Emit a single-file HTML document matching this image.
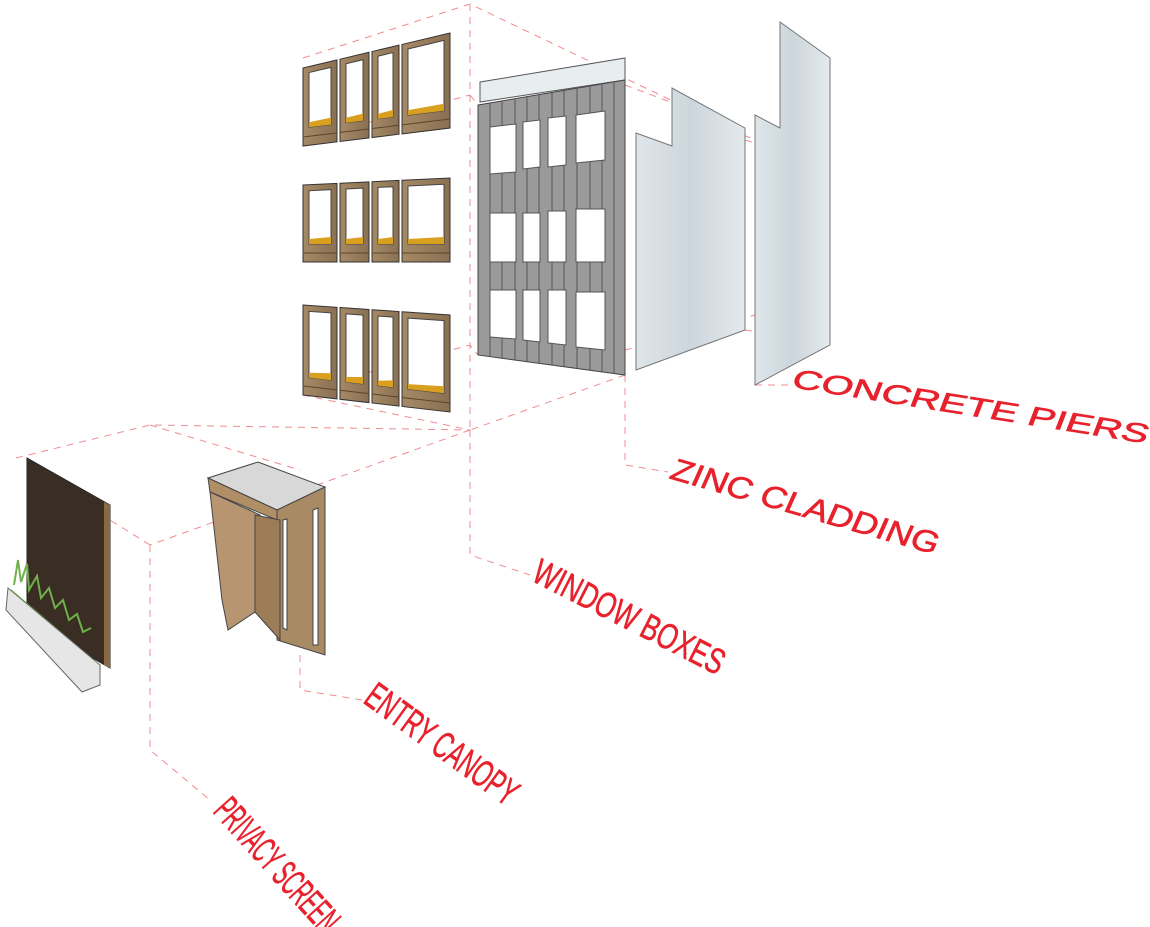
<!DOCTYPE html>
<html><head><meta charset="utf-8"><style>
html,body{margin:0;padding:0;background:#fff;width:1150px;height:927px;overflow:hidden}
svg{display:block}
.d{stroke:#f08c90;stroke-width:1;stroke-dasharray:7 6;fill:none}
.lbl{font-family:"Liberation Sans",sans-serif;fill:#e8222c;stroke:#e8222c;stroke-width:0.6}
</style></head><body>
<svg id="s" width="1150" height="927" viewBox="0 0 1150 927">
<defs>
<linearGradient id="conc" x1="0" x2="1"><stop offset="0" stop-color="#dfe6ea"/><stop offset=".5" stop-color="#cdd6dc"/><stop offset="1" stop-color="#e4eaed"/></linearGradient>
<linearGradient id="wood" x1="0" x2="1"><stop offset="0" stop-color="#a68a66"/><stop offset="1" stop-color="#8a7052"/></linearGradient>
</defs>
<path class="d" d="M303,58 L470,4 L750,138 M470,4 L470,430 M303,140 L470,95 M470,95 L478,105 M303,390 L470,345 L478,355 M303,395 L470,430 M625,375 L625,465 L668,472 M625,375 L470,430 M470,430 L150,545 M16,458 L150,425 L470,430 M150,425 L300,470 M150,545 L150,750 L210,800 M150,545 L110,520 M470,430 L470,555 L530,575 M300,655 L300,690 L362,700 M745,140 L780,150 M745,330 L780,335 M755,385 L790,385 M625,85 L745,130 M625,350 L755,315"/>
<g id="wb"></g>
<!-- zinc cladding -->
<polygon points="480,82 625,58 625,80 480,102" fill="#e8eef0" stroke="#555"/>
<polygon points="478,105 625,80 625,375 478,355" fill="#9a9a9a" stroke="#444"/>
<g stroke="#555" stroke-width="1"><path d="M490,103 V357 M502,101 V358 M515,99 V360 M527,97 V362 M539,95 V363 M552,93 V365 M564,91 V367 M577,89 V368 M590,87 V370 M602,85 V372 M614,83 V374"/></g>
<g fill="#fff" stroke="#555">
<polygon points="490,127 516,124 516,172 490,174"/><polygon points="523,122 540,120 540,167 523,169"/><polygon points="548,118 566,116 566,165 548,167"/><polygon points="576,115 605,111 605,160 576,163"/>
<polygon points="490,213 516,213 516,262 490,262"/><polygon points="523,213 540,213 540,262 523,262"/><polygon points="548,211 566,211 566,262 548,262"/><polygon points="576,209 605,209 605,262 576,262"/>
<polygon points="490,290 516,290 516,339 490,337"/><polygon points="523,290 540,290 540,342 523,340"/><polygon points="548,290 566,290 566,345 548,343"/><polygon points="576,292 605,292 605,350 576,347"/>
</g>
<polygon points="636,133 672,146 672,88 745,128 745,330 636,370" fill="url(#conc)" stroke="#777"/>
<polygon points="755,115 780,128 780,22 830,58 830,345 755,385" fill="url(#conc)" stroke="#777"/>
<!-- privacy screen -->
<polygon points="27,458 110,505 110,668 27,620" fill="#3a2e24" stroke="#222"/>
<polygon points="104,502 110,505 110,668 104,665" fill="#8a6a45"/>
<polygon points="8,588 100,665 100,685 82,692 6,610" fill="#e6e6e6" stroke="#666"/>
<polygon points="12,590 96,662 100,665 8,588" fill="#6aa040"/>
<path d="M14,585 l4,-25 l3,22 l6,-18 l2,26 l8,-14 l4,22 l8,-10 l6,20 l8,-8 l6,20 l8,-6 l6,18 l8,-4" stroke="#6fb04a" stroke-width="2" fill="none"/>
<!-- entry canopy -->
<polygon points="208,478 258,462 325,487 277,510" fill="#d8d8d8" stroke="#444"/>
<polygon points="208,478 277,510 277,520 210,492" fill="#b08e66" stroke="#444"/>
<polygon points="210,492 260,515 255,612 228,630 222,600" fill="#b69570" stroke="#444"/>
<polygon points="277,510 325,487 325,655 277,640" fill="#a88a64" stroke="#444"/>
<polygon points="255,515 280,520 280,640 255,612" fill="#9c7d58" stroke="#444"/>
<polygon points="313,510 318,508 318,645 313,645" fill="#fff" stroke="#444"/>
<polygon points="283,520 287,519 287,630 283,628" fill="#fff" stroke="#444"/>
<!-- labels -->
<text class="lbl" font-size="27" transform="translate(790,387) rotate(9) skewX(-12) scale(1.5,1)">CONCRETE PIERS</text>
<text class="lbl" font-size="31" transform="translate(668,478) rotate(16) skewX(-8) scale(1.15,1)">ZINC CLADDING</text>
<text class="lbl" font-size="36" transform="translate(530,580) rotate(27) scale(0.72,1)">WINDOW BOXES</text>
<text class="lbl" font-size="38" transform="translate(362,702) rotate(36) scale(0.6,1)">ENTRY CANOPY</text>
<text class="lbl" font-size="38" transform="translate(212,812) rotate(48) scale(0.5,1)">PRIVACY SCREEN</text>
</svg>
<script>
var rows=[[68,33,146,128],[185,178,262,262],[305,315,395,412]];
var xs=[[303,337],[340,369],[372,399],[402,450]];
var g=document.getElementById('wb'),h='';
function iy(a,b,x){return a+(b-a)*(x-303)/147;}
rows.forEach(function(r){xs.forEach(function(b){
var x1=b[0],x2=b[1];
var t1=iy(r[0],r[1],x1),t2=iy(r[0],r[1],x2),b1=iy(r[2],r[3],x1),b2=iy(r[2],r[3],x2);
h+='<polygon points="'+x1+','+t1+' '+x2+','+t2+' '+x2+','+b2+' '+x1+','+b1+'" fill="url(#wood)" stroke="#333"/>';
var a=x1+6,c=x2-6,p=18;
var ta=iy(r[0],r[1],a)+6,tc=iy(r[0],r[1],c)+6,ba=iy(r[2],r[3],a)-p,bc=iy(r[2],r[3],c)-p;
h+='<polygon points="'+a+','+ta+' '+c+','+tc+' '+c+','+bc+' '+a+','+ba+'" fill="#fff" stroke="#444"/>';
h+='<polygon points="'+a+','+(ba-5)+' '+c+','+(bc-7)+' '+c+','+bc+' '+a+','+ba+'" fill="#d9a020"/>';
h+='<line x1="'+x1+'" y1="'+(b1-9)+'" x2="'+x2+'" y2="'+(b2-9)+'" stroke="#5a4530"/>';
});});
g.innerHTML=h;
</script>
</body></html>
